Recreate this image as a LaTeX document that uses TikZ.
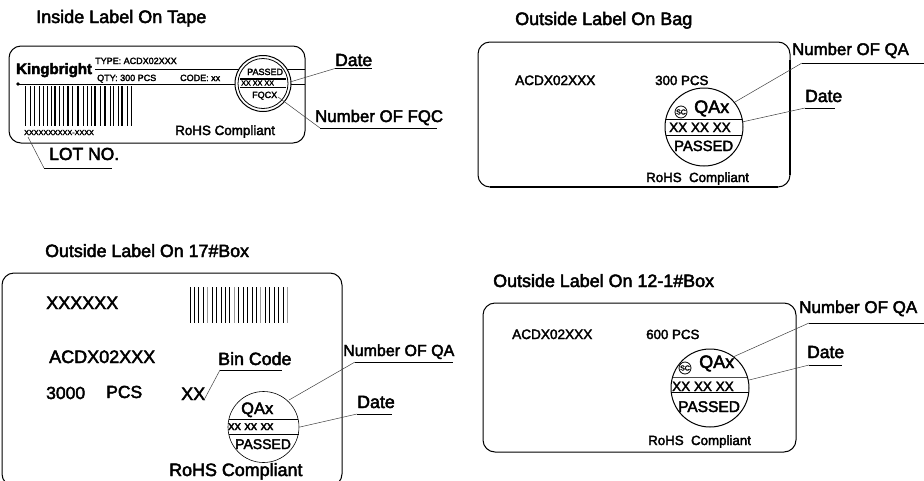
\documentclass[tikz,border=0pt]{standalone}
\usepackage{fontspec}
\setmainfont[FakeBold=2.6]{Liberation Sans}
\newfontfamily\logofont[FakeBold=3]{Liberation Sans Bold}
\usepackage{tikz}

\tikzset{
    txt/.style={inner sep=0pt, anchor=base west, font=\fontsize{#1}{#1}\selectfont},
    logotxt/.style={inner sep=0pt, anchor=base west, font=\logofont\fontsize{#1}{#1}\selectfont},
    outline/.style={line width=1pt, rounded corners=12pt},
    heavy/.style={line width=2pt},
    rule/.style={line width=0.9pt},
    leader/.style={line width=0.5pt, black!75},
    seal/.style={line width=1pt, fill=white},
}

\begin{document}
\begin{tikzpicture}[x=1pt, y=-1pt]
    \useasboundingbox (0,0) rectangle (924,480);

    % Inside label on tape
    \node[txt=18] (tapeTitle) at (36,23) {Inside Label On Tape};
    \draw[outline] (9,46) rectangle (305,143);
    \draw[rule] (95,69) -- (305,69);
    \draw[rule] (18,84) -- (305,84);
    \fill (18,84) circle (1.8);
    \foreach \xb/\wb in {25/1,30/1,34/1,39/1,43/1,47/1,51/1,55/1.2,59/1,63/1,68/1.2,72/1,78/2.4,83/1,87/1,91/1,95/1.4,100/1,105/1.2,110/1,113/1,118/1,122/1.6,127/1,131/1}
        \draw[line width=\wb pt] (\xb,86) -- (\xb,126);
    \draw[seal] (263,83.5) circle (28);
    \draw[line width=0.8pt] (263,83.5) circle (25);
    \draw[rule, line width=1.4pt] (240,79) -- (286,79);
    \draw[rule, line width=1.4pt] (240,87.5) -- (286,87.5);
    \node[logotxt=15] (tapeLogo) at (16,74) {Kingbright};
    \node[txt=9] (tapeType) at (95,64) {TYPE: ACDX02XXX};
    \node[txt=9] (tapeQty) at (97,81) {QTY: 300 PCS};
    \node[txt=9] (tapeCode) at (180,81) {CODE: xx};
    \node[txt=7.2] (tapeLot) at (24,135) {XXXXXXXXXX-XXXX};
    \node[txt=13.4] (tapeRohs) at (175,135) {RoHS Compliant};
    \node[txt=9] (tapePassed) at (247,75) {PASSED};
    \node[txt=7.2] (tapeStamp) at (241,85.5) {XX XX XX};
    \node[txt=9] (tapeFqc) at (252,98) {FQCX};
    \node[txt=17.5] (tapeDate) at (335,66) {Date};
    \node[txt=16.8] (tapeNumber) at (315,122) {Number OF FQC};
    \node[txt=17.5] (tapeLotNo) at (49,160) {LOT NO.};
    \coordinate (tapeDateA) at (290,82);
    \coordinate (tapeDateB) at (335,68.5);
    \coordinate (tapeDateC) at (372,68.5);
    \coordinate (tapeNumA) at (278,97);
    \coordinate (tapeNumB) at (320,128);
    \coordinate (tapeNumC) at (437,128);
    \coordinate (tapeLotA) at (28,137);
    \coordinate (tapeLotB) at (44,168);
    \coordinate (tapeLotC) at (112,168);
    \draw[leader] (tapeDateA) -- (tapeDateB);
    \draw[rule] (tapeDateB) -- (tapeDateC);
    \draw[leader] (tapeNumA) -- (tapeNumB);
    \draw[rule] (tapeNumB) -- (tapeNumC);
    \draw[leader] (tapeLotA) -- (tapeLotB);
    \draw[rule] (tapeLotB) -- (tapeLotC);

    % Outside label on bag
    \node[txt=18] (bagTitle) at (515,25) {Outside Label On Bag};
    \draw[outline] (478,42) rectangle (790,187);
    \draw[heavy] (790,60) -- (790,175);
    \draw[heavy] (490,187) -- (778,187);
    \draw[seal] (704,127) circle (39);
    \draw[rule] (665.8,119) -- (742.2,119);
    \draw[rule] (665.8,135) -- (742.2,135);
    \node[txt=13.6] (bagPart) at (515,85) {ACDX02XXX};
    \node[txt=13.3] (bagQty) at (655,85) {300 PCS};
    \node[draw, circle, line width=0.8pt, minimum size=12pt, inner sep=0pt, font=\fontsize{7}{7}\selectfont] (bagSc) at (681,112) {SC};
    \node[txt=18] (bagQa) at (694,113) {QAx};
    \node[txt=13.5] (bagStamp) at (669,132) {XX XX XX};
    \node[txt=14.8] (bagPassed) at (674,151) {PASSED};
    \node[txt=13.3] (bagRohs) at (646,182) {RoHS\ \ Compliant};
    \node[txt=16.8] (bagNumber) at (792,55) {Number OF QA};
    \node[txt=17.5] (bagDate) at (805,102) {Date};
    \coordinate (bagNumA) at (735,102);
    \coordinate (bagNumB) at (802,63);
    \coordinate (bagNumC) at (924,63);
    \coordinate (bagDateA) at (742,122);
    \coordinate (bagDateB) at (805,108);
    \coordinate (bagDateC) at (835,108);
    \draw[leader] (bagNumA) -- (bagNumB);
    \draw[rule] (bagNumB) -- (bagNumC);
    \draw[leader] (bagDateA) -- (bagDateB);
    \draw[rule] (bagDateB) -- (bagDateC);

    % Outside label on 17# box
    \node[txt=17.8] (boxTitle) at (45,257) {Outside Label On 17\#Box};
    \draw[outline] (2,273) rectangle (342,486);
    \foreach \i in {0,1,2,3,5,6,7,8,9,11,12,13,14,15,17,18,19,20,21}
        \draw[line width=0.8pt] ({190+4.43*\i},287) -- ({190+4.43*\i},323);
    \foreach \i in {4,10,16,22}
        \draw[line width=1pt, black!40] ({190+4.43*\i},287) -- ({190+4.43*\i},323);
    \draw[seal, line width=0.6pt] (263.5,427) circle (35.5);
    \draw[rule] (229,419) -- (298,419);
    \draw[rule] (228.5,434) -- (298.5,434);
    \node[txt=18] (boxCode) at (46,309) {XXXXXX};
    \node[txt=18] (boxPart) at (49,363) {ACDX02XXX};
    \node[txt=17.5] (boxQty) at (46,399) {3000};
    \node[txt=17.5] (boxPcs) at (106,398) {PCS};
    \node[txt=18] (boxBin) at (181,400) {XX};
    \node[txt=17.8] (boxBinCode) at (218,365) {Bin Code};
    \node[txt=16] (boxNumber) at (343,356) {Number OF QA};
    \node[txt=17.8] (boxDate) at (357,408) {Date};
    \node[txt=16.5] (boxQa) at (241,414) {QAx};
    \node[txt=12.7] (boxStamp) at (228,430) {xx xx xx};
    \node[txt=14] (boxPassed) at (235,449) {PASSED};
    \node[txt=17.9] (boxRohs) at (169,476) {RoHS Compliant};
    \coordinate (boxBinA) at (204,400);
    \coordinate (boxBinB) at (220,370);
    \coordinate (boxBinC) at (282,370);
    \coordinate (boxNumA) at (289,400);
    \coordinate (boxNumB) at (355,362);
    \coordinate (boxNumC) at (453,362);
    \coordinate (boxDateA) at (300,427);
    \coordinate (boxDateB) at (357,414);
    \coordinate (boxDateC) at (392,414);
    \draw[leader] (boxBinA) -- (boxBinB);
    \draw[rule] (boxBinB) -- (boxBinC);
    \draw[leader] (boxNumA) -- (boxNumB);
    \draw[rule] (boxNumB) -- (boxNumC);
    \draw[leader] (boxDateA) -- (boxDateB);
    \draw[rule] (boxDateB) -- (boxDateC);

    % Outside label on 12-1# box
    \node[txt=17.9] (caseTitle) at (493,287) {Outside Label On 12-1\#Box};
    \draw[outline] (483,303) rectangle (796,452);
    \draw[seal] (710,388) circle (39);
    \draw[rule, black!70] (672.6,377) -- (747.4,377);
    \draw[rule] (671.2,392) -- (748.8,392);
    \node[txt=13.6] (casePart) at (512,339) {ACDX02XXX};
    \node[txt=13.3] (caseQty) at (646,339) {600 PCS};
    \node[draw, circle, line width=0.8pt, minimum size=12pt, inner sep=0pt, font=\fontsize{7}{7}\selectfont] (caseSc) at (685,368) {SC};
    \node[txt=18] (caseQa) at (699,368) {QAx};
    \node[txt=13.5] (caseStamp) at (672,391) {XX XX XX};
    \node[txt=15.5] (casePassed) at (678,412) {PASSED};
    \node[txt=13.3] (caseRohs) at (648,445) {RoHS\ \ Compliant};
    \node[txt=17] (caseNumber) at (799,313) {Number OF QA};
    \node[txt=17.5] (caseDate) at (807,358) {Date};
    \coordinate (caseNumA) at (733,357);
    \coordinate (caseNumB) at (809,323);
    \coordinate (caseNumC) at (924,323);
    \coordinate (caseDateA) at (749,380);
    \coordinate (caseDateB) at (809,365);
    \coordinate (caseDateC) at (842,365);
    \draw[leader] (caseNumA) -- (caseNumB);
    \draw[rule] (caseNumB) -- (caseNumC);
    \draw[leader] (caseDateA) -- (caseDateB);
    \draw[rule] (caseDateB) -- (caseDateC);
\end{tikzpicture}
\end{document}
